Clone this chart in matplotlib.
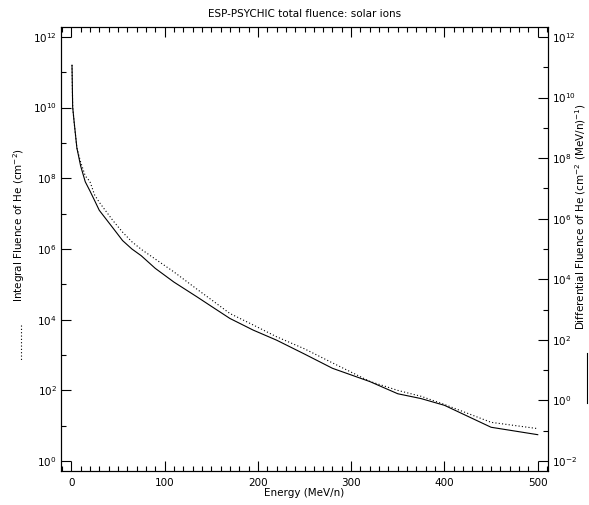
import numpy as np
import matplotlib
matplotlib.use("Agg")
import matplotlib.pyplot as plt
from matplotlib.ticker import FixedLocator, LogFormatterSciNotation, NullFormatter, MultipleLocator
from matplotlib.lines import Line2D

# Energy grid (MeV/n)
energy = [0.8, 1.5, 3, 6, 10, 15, 20, 25, 30, 45, 55, 65, 75, 90, 110, 135,
          150, 170, 195, 220, 250, 280, 320, 350, 375, 400, 450, 500]

# Integral fluence of He (cm^-2), dotted, left axis
integral_fluence = [1.6e11, 1.07e10, 4.0e9, 7.2e8, 2.9e8, 1.17e8, 8.1e7, 3.4e7,
                    2.1e7, 6.2e6, 3.0e6, 1.6e6, 9.8e5, 5.2e5, 2.25e5, 7.2e4,
                    3.7e4, 1.5e4, 7.1e3, 3.3e3, 1.5e3, 6.0e2, 1.8e2, 1.0e2,
                    68, 40, 12.5, 8.3]

# Differential fluence of He (cm^-2 (MeV/n)^-1), solid, right axis
differential_fluence = [1.17e11, 4.9e9, 1.66e9, 2.2e8, 5.6e7, 1.66e7, 8.3e6, 4.0e6,
                        1.9e6, 4.8e5, 1.9e5, 1.0e5, 6.0e4, 2.3e4, 8.1e3, 2.6e3,
                        1.29e3, 5.1e2, 2.1e2, 98, 34, 11.5, 4.2, 1.66,
                        1.15, 0.69, 0.13, 0.074]

title = "ESP-PSYCHIC total fluence: solar ions"
xlabel = "Energy (MeV/n)"
left_label = "Integral Fluence of He (cm$^{-2}$)"
right_label = "Differential Fluence of He (cm$^{-2}$ (MeV/n)$^{-1}$)"

W, H = 589, 505
plt.rcParams['font.family'] = ['DejaVu Sans']
plt.rcParams['mathtext.fontset'] = 'dejavusans'
fig = plt.figure(figsize=(W / 100, H / 100), dpi=100)

FS = 7.5
x0, x1, y0, y1 = 61, 548, 27, 471
ax = fig.add_axes([x0 / W, 1 - y1 / H, (x1 - x0) / W, (y1 - y0) / H])
ax2 = ax.twinx()

ax.plot(energy, integral_fluence, color='black', lw=0.8, linestyle=(0, (1, 2)))
ax2.plot(energy, differential_fluence, color='black', lw=0.8)

ax.set_xlim(-11, 511)
ax.set_yscale('log')
ax.set_ylim(10 ** -0.28, 10 ** 12.28)
ax2.set_yscale('log')
ax2.set_ylim(10 ** -2.33, 10 ** 12.33)

ax.xaxis.set_major_locator(MultipleLocator(100))
ax.xaxis.set_minor_locator(MultipleLocator(10))

ax.yaxis.set_major_locator(FixedLocator([10.0 ** k for k in range(0, 13, 2)]))
ax.yaxis.set_minor_locator(FixedLocator([10.0 ** k for k in range(1, 12, 2)]))
ax.yaxis.set_major_formatter(LogFormatterSciNotation())
ax.yaxis.set_minor_formatter(NullFormatter())

ax2.yaxis.set_major_locator(FixedLocator([10.0 ** k for k in range(-2, 13, 2)]))
ax2.yaxis.set_minor_locator(FixedLocator([10.0 ** k for k in range(-1, 12, 2)]))
ax2.yaxis.set_major_formatter(LogFormatterSciNotation())
ax2.yaxis.set_minor_formatter(NullFormatter())

ax.tick_params(axis='x', which='both', direction='in', top=True, bottom=True,
               labelsize=FS, pad=5, width=0.8)
ax.tick_params(axis='x', which='major', length=7)
ax.tick_params(axis='x', which='minor', length=3.5)
ax.tick_params(axis='y', which='both', direction='in', left=True, right=False,
               labelsize=FS, pad=3, width=0.8)
ax.tick_params(axis='y', which='major', length=7)
ax.tick_params(axis='y', which='minor', length=3.5)
ax2.tick_params(axis='y', which='both', direction='in', right=True, left=False,
                labelsize=FS, pad=3, width=0.8)
ax2.tick_params(axis='y', which='major', length=7)
ax2.tick_params(axis='y', which='minor', length=3.5)
for a in (ax, ax2):
    for s in a.spines.values():
        s.set_linewidth(0.8)

fig.text(0.5 * (x0 + x1) / W, 1 - 14 / H, title, ha='center', va='center', fontsize=FS)
fig.text(0.5 * (x0 + x1) / W, 1 - 493 / H, xlabel, ha='center', va='center', fontsize=FS)

# left axis title with a dotted line key
fig.text(19.5 / W, 1 - 225 / H, left_label, rotation=90, ha='center', va='center', fontsize=FS)
fig.add_artist(Line2D([20.7 / W, 20.7 / W], [1 - 325 / H, 1 - 360 / H],
                      transform=fig.transFigure, color='black', lw=0.8,
                      linestyle=(0, (1, 2))))

# right axis title with a solid line key
fig.text(581 / W, 1 - 217 / H, right_label, rotation=90, ha='center', va='center', fontsize=FS)
fig.add_artist(Line2D([586.5 / W, 586.5 / W], [1 - 353 / H, 1 - 403 / H],
                      transform=fig.transFigure, color='black', lw=0.8))

fig.savefig("out.png", dpi=100)
